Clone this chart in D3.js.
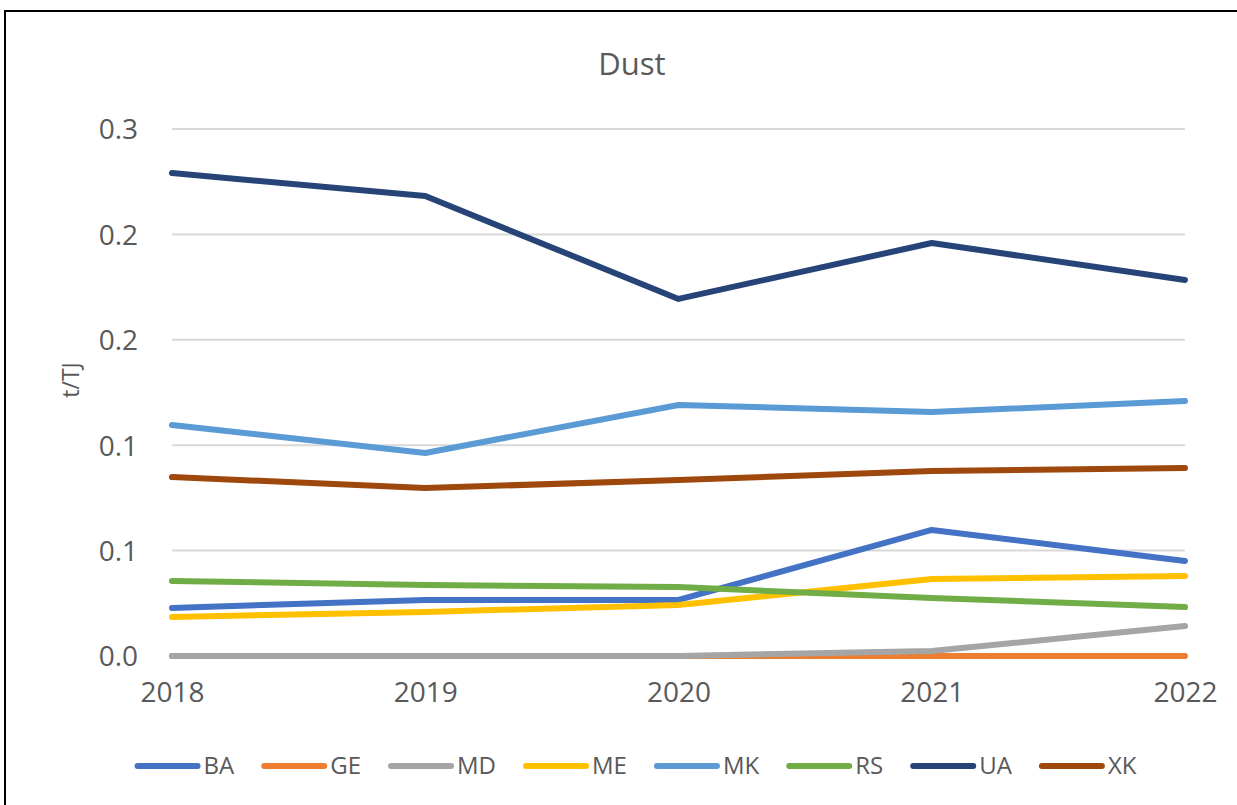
<!DOCTYPE html>
<html>
<head>
<meta charset="utf-8">
<script src="https://cdn.jsdelivr.net/npm/d3@7"></script>
<style>
  body { margin: 0; background: #fff; }
  text { font-family: "Open Sans", "Noto Sans", sans-serif; fill: #595959; }
</style>
</head>
<body>
<svg id="chart" width="1237" height="805"></svg>
<script>
// data
const years = ['2018', '2019', '2020', '2021', '2022'];
const seriesNames = ['BA', 'GE', 'MD', 'ME', 'MK', 'RS', 'UA', 'XK'];
const BA = [0.0228, 0.0266, 0.0266, 0.0598, 0.0451];
const GE = [0, 0, 0, 0, 0];
const MD = [0, 0, 0, 0.0024, 0.0142];
const ME = [0.0185, 0.0209, 0.0242, 0.0365, 0.0380];
const MK = [0.1096, 0.0963, 0.1191, 0.1157, 0.1210];
const RS = [0.0356, 0.0337, 0.0327, 0.0275, 0.0232];
const UA = [0.2291, 0.2182, 0.1694, 0.1959, 0.1784];
const XK = [0.0849, 0.0797, 0.0835, 0.0878, 0.0892];
const yTicks = [0, 0.05, 0.10, 0.15, 0.20, 0.25];

const seriesValues = { BA, GE, MD, ME, MK, RS, UA, XK };
const colors = {
  BA: '#4472C4', GE: '#ED7D31', MD: '#A5A5A5', ME: '#FFC000',
  MK: '#5B9BD5', RS: '#70AD47', UA: '#264478', XK: '#9E480E'
};

const svg = d3.select('#chart');

// outer frame
svg.append('rect')
  .attr('x', 5).attr('y', 11)
  .attr('width', 1250).attr('height', 810)
  .attr('fill', '#fff')
  .attr('stroke', '#000')
  .attr('stroke-width', 2);

const x = d3.scalePoint().domain(years).range([172, 1185]);
const y = d3.scaleLinear().domain([0, 0.25]).range([656, 129]);

// gridlines
svg.append('g')
  .selectAll('line')
  .data(yTicks)
  .join('line')
  .attr('x1', 172).attr('x2', 1185)
  .attr('y1', d => y(d)).attr('y2', d => y(d))
  .attr('stroke', '#D9D9D9')
  .attr('stroke-width', 2);

// y axis labels, rounded to one decimal (half up) like the source
const oneDecimal = d => (Math.round(d * 10 + 1e-9) / 10).toFixed(1);
const yAxis = svg.append('g')
  .attr('transform', 'translate(172,0)')
  .call(d3.axisLeft(y).tickValues(yTicks).tickFormat(oneDecimal).tickSize(0).tickPadding(34));
yAxis.select('.domain').remove();
yAxis.selectAll('text')
  .style('font-size', '28px')
  .attr('fill', '#595959')
  .attr('dy', '0.35em');

// x axis labels
const xAxis = svg.append('g')
  .attr('transform', 'translate(0,656)')
  .call(d3.axisBottom(x).tickSize(0).tickPadding(26));
xAxis.select('.domain').remove();
xAxis.selectAll('text')
  .style('font-size', '28px')
  .attr('fill', '#595959');

// lines
const line = d3.line()
  .x((d, i) => x(years[i]))
  .y(d => y(d));

svg.append('g')
  .selectAll('path')
  .data(seriesNames)
  .join('path')
  .attr('d', name => line(seriesValues[name]))
  .attr('fill', 'none')
  .attr('stroke', name => colors[name])
  .attr('stroke-width', 6)
  .attr('stroke-linejoin', 'round')
  .attr('stroke-linecap', 'round');

// title
svg.append('text')
  .attr('x', 632).attr('y', 75)
  .attr('text-anchor', 'middle')
  .style('font-size', '31px')
  .text('Dust');

// y axis title
svg.append('text')
  .attr('transform', 'translate(79,380) rotate(-90)')
  .attr('text-anchor', 'middle')
  .style('font-size', '23px')
  .text('t/TJ');

// legend
const legend = svg.append('g');
const items = legend.selectAll('g')
  .data(seriesNames)
  .join('g');
items.append('line')
  .attr('x1', 0).attr('x2', 60)
  .attr('y1', 0).attr('y2', 0)
  .attr('stroke', d => colors[d])
  .attr('stroke-width', 6)
  .attr('stroke-linecap', 'round');
items.append('text')
  .attr('x', 66).attr('y', 0)
  .attr('dy', '0.35em')
  .style('font-size', '24px')
  .text(d => d);

const gap = 30;
let cursor = 0;
items.each(function () {
  const g = d3.select(this);
  const w = 66 + g.select('text').node().getComputedTextLength();
  g.attr('transform', `translate(${cursor},0)`);
  cursor += w + gap;
});
const total = cursor - gap;
legend.attr('transform', `translate(${637 - total / 2},766)`);
</script>
</body>
</html>
